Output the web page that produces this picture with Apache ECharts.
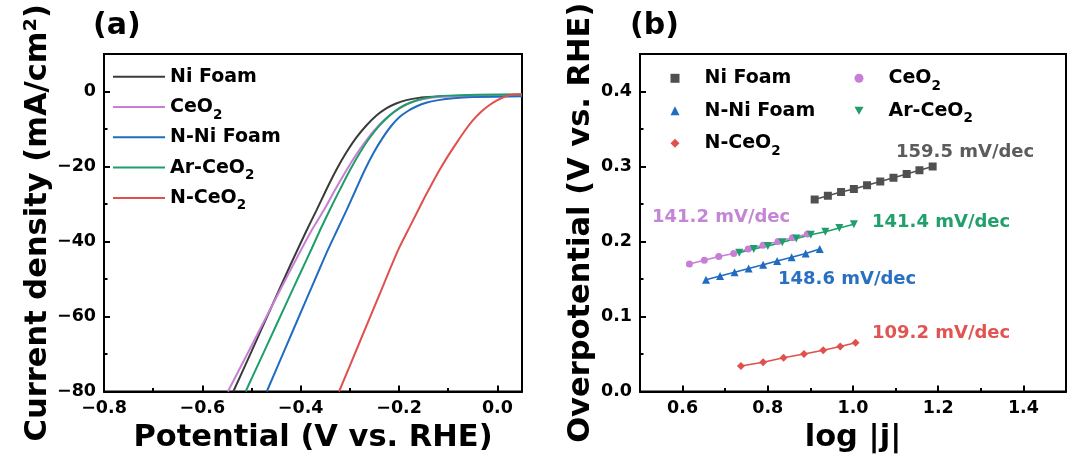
<!DOCTYPE html>
<html>
<head>
<meta charset="utf-8">
<script src="https://cdn.jsdelivr.net/npm/echarts@6/dist/echarts.min.js"></script>
<style>
  html, body { margin: 0; padding: 0; background: #fff; }
  #chart { width: 1080px; height: 459px; }
</style>
</head>
<body>
<div id="chart"></div>
<script>
// (a) polarization curves: [potential (V vs. RHE), current density (mA/cm2)]
const niFoamLsv = [[-0.537,-80],[-0.50,-69.3],[-0.46,-57.6],[-0.42,-46],[-0.39,-37.6],[-0.368,-31.7],[-0.348,-26.2],[-0.328,-21],[-0.308,-16.4],[-0.287,-12.3],[-0.266,-9],[-0.246,-6.4],[-0.226,-4.5],[-0.206,-3.2],[-0.185,-2.3],[-0.16,-1.7],[-0.13,-1.4],[-0.09,-1.2],[-0.04,-1.1],[0.05,-1.0]];
const ceo2Lsv = [[-0.548,-80],[-0.50,-67.8],[-0.45,-55],[-0.40,-42.4],[-0.375,-36.4],[-0.351,-31.2],[-0.33,-26.2],[-0.307,-21],[-0.288,-17],[-0.27,-13.6],[-0.25,-10.3],[-0.23,-7.6],[-0.21,-5.4],[-0.19,-3.8],[-0.17,-2.7],[-0.15,-2.0],[-0.12,-1.5],[-0.08,-1.2],[-0.02,-1.0],[0.05,-0.9]];
const nNiFoamLsv = [[-0.469,-80],[-0.43,-68.1],[-0.39,-55.9],[-0.36,-46.8],[-0.345,-42.3],[-0.326,-37],[-0.307,-31.7],[-0.288,-26.2],[-0.27,-21],[-0.252,-16.4],[-0.233,-12.3],[-0.216,-9.2],[-0.199,-6.8],[-0.182,-5.2],[-0.165,-4.0],[-0.145,-3.0],[-0.12,-2.3],[-0.09,-1.8],[-0.05,-1.5],[0.05,-1.3]];
const arCeo2Lsv = [[-0.512,-80],[-0.47,-68.1],[-0.43,-56.7],[-0.40,-48.2],[-0.378,-42],[-0.36,-36.8],[-0.341,-31.6],[-0.32,-26.1],[-0.30,-21],[-0.28,-16.4],[-0.26,-12.4],[-0.24,-9.1],[-0.22,-6.5],[-0.20,-4.5],[-0.185,-3.4],[-0.165,-2.4],[-0.14,-1.6],[-0.10,-1.1],[-0.04,-0.85],[0.05,-0.75]];
const nCeo2Lsv = [[-0.322,-80],[-0.28,-66.8],[-0.24,-54.2],[-0.202,-42.3],[-0.176,-35.5],[-0.151,-29],[-0.134,-24.8],[-0.118,-21],[-0.101,-17.3],[-0.084,-13.9],[-0.067,-10.6],[-0.05,-7.7],[-0.033,-5.4],[-0.016,-3.6],[0,-2.3],[0.011,-1.6],[0.025,-1.0],[0.038,-0.8],[0.05,-0.7]];

// (b) Tafel plots: [log|j|, overpotential (V vs. RHE)]
const niFoamTafel = [[0.910,0.256],[0.941,0.261],[0.972,0.266],[1.002,0.270],[1.033,0.275],[1.064,0.280],[1.095,0.285],[1.126,0.290],[1.156,0.295],[1.187,0.300]];
const ceo2Tafel = [[0.616,0.170],[0.651,0.175],[0.685,0.180],[0.720,0.184],[0.754,0.190],[0.789,0.195],[0.824,0.200],[0.858,0.205],[0.893,0.210]];
const nNiFoamTafel = [[0.655,0.149],[0.688,0.154],[0.722,0.159],[0.755,0.164],[0.789,0.169],[0.822,0.174],[0.856,0.179],[0.889,0.184],[0.922,0.190]];
const arCeo2Tafel = [[0.733,0.185],[0.767,0.190],[0.800,0.194],[0.834,0.199],[0.867,0.204],[0.901,0.209],[0.935,0.213],[0.968,0.218],[1.002,0.223]];
const nCeo2Tafel = [[0.737,0.034],[0.789,0.039],[0.837,0.045],[0.885,0.050],[0.930,0.055],[0.970,0.060],[1.006,0.065]];

const sampleNames = ['Ni Foam', 'CeO2', 'N-Ni Foam', 'Ar-CeO2', 'N-CeO2'];
const tafelSlopes = ['159.5 mV/dec', '141.2 mV/dec', '148.6 mV/dec', '141.4 mV/dec', '109.2 mV/dec'];

// ticks
const lsvXTicks = [-0.8, -0.6, -0.4, -0.2, 0.0];
const lsvXMinor = [-0.7, -0.5, -0.3, -0.1];
const lsvYTicks = [-80, -60, -40, -20, 0];
const lsvYMinor = [-70, -50, -30, -10];
const tafelXTicks = [0.6, 0.8, 1.0, 1.2, 1.4];
const tafelXMinor = [0.7, 0.9, 1.1, 1.3];
const tafelYTicks = [0.0, 0.1, 0.2, 0.3, 0.4];
const tafelYMinor = [0.05, 0.15, 0.25, 0.35];

const FONT = '"DejaVu Sans", sans-serif';
const lineColors = ['#3a3a3a', '#c77fd6', '#1f6cc0', '#1f9e6c', '#e0504c'];
const markColors = ['#505050', '#c77fd6', '#1f6cc0', '#1f9e6c', '#e0504c'];
const noteColors = ['#5c5c5c', '#c486d4', '#2a70c0', '#22a06c', '#e05552'];
const markers = ['rect', 'circle', 'triangle', 'path://M0,0L10,0L5,9Z', 'diamond'];

const fmt = d => v => (v < 0 ? '\u2212' : '') + Math.abs(v).toFixed(d);
// "CeO2" -> CeO with a dropped subscript 2
const chem = name => name.replace(/O2$/, 'O{s|2}');

function axis(dir, grid, min, max, major, minor, digits, name, nameGap) {
    const pos = dir === 'x' ? 'bottom' : 'left';
    const base = {
        type: 'value', gridIndex: grid, min: min, max: max, position: pos,
        splitLine: { show: false }
    };
    const main = Object.assign({}, base, {
        axisLine: { show: true, onZero: false, lineStyle: { color: '#000', width: 2 } },
        axisTick: { show: true, inside: true, length: 6, customValues: major, lineStyle: { color: '#000', width: 2 } },
        axisLabel: { customValues: major, formatter: fmt(digits), color: '#000', fontSize: 17.5, fontWeight: 'bold', fontFamily: FONT, margin: 8 },
        name: name, nameLocation: 'middle', nameGap: nameGap,
        nameTextStyle: { color: '#000', fontSize: 30.5, fontWeight: 'bold', fontFamily: FONT }
    });
    const sub = Object.assign({}, base, {
        axisLine: { show: false, onZero: false },
        axisTick: { show: true, inside: true, length: 3.5, customValues: minor, lineStyle: { color: '#000', width: 2 } },
        axisLabel: { show: false }
    });
    return [main, sub];
}

const lsvData = [niFoamLsv, ceo2Lsv, nNiFoamLsv, arCeo2Lsv, nCeo2Lsv];
const tafelData = [niFoamTafel, ceo2Tafel, nNiFoamTafel, arCeo2Tafel, nCeo2Tafel];

const series = [];
lsvData.forEach((d, i) => series.push({
    name: sampleNames[i], type: 'line', xAxisIndex: 0, yAxisIndex: 0,
    data: d, symbol: 'none', smooth: 0.25,
    lineStyle: { width: 2, color: lineColors[i] }, itemStyle: { color: lineColors[i] }
}));
tafelData.forEach((d, i) => series.push({
    name: sampleNames[i], type: 'line', xAxisIndex: 2, yAxisIndex: 2,
    data: d, symbol: markers[i], symbolSize: i === 1 ? 7 : 8,
    lineStyle: { width: 1.5, color: markColors[i] }, itemStyle: { color: markColors[i] }
}));

// line box of 30 px, the subscript token sits at its bottom
const legendText = pad => ({
    color: '#000', fontSize: 19, fontWeight: 'bold', fontFamily: FONT, lineHeight: 30,
    padding: [0, 0, 0, pad],
    rich: { s: { fontSize: 13.5, fontWeight: 'bold', fontFamily: FONT, color: '#000', lineHeight: 4, verticalAlign: 'bottom' } }
});
const lsvLegendItem = i => ({ name: sampleNames[i], icon: 'rect', itemStyle: { color: lineColors[i] } });
const tafelLegendItem = i => ({ name: sampleNames[i], icon: markers[i], itemStyle: { color: markColors[i] } });

const notePos = [[896, 152], [652, 217], [778, 279], [872, 222], [872, 333]];

const chart = echarts.init(document.getElementById('chart'));
chart.setOption({
    backgroundColor: '#fff',
    animation: false,
    title: [
        { text: '(a)', left: 93, top: 11, padding: 0, textStyle: { fontSize: 30, fontWeight: 'bold', fontFamily: FONT, color: '#000' } },
        { text: '(b)', left: 630, top: 11, padding: 0, textStyle: { fontSize: 30, fontWeight: 'bold', fontFamily: FONT, color: '#000' } }
    ],
    grid: [
        { left: 104, width: 418, top: 54, height: 337.5, show: true, borderColor: '#000', borderWidth: 2 },
        { left: 640, width: 426, top: 54, height: 337.5, show: true, borderColor: '#000', borderWidth: 2 }
    ],
    xAxis: [].concat(
        axis('x', 0, -0.8, 0.05, lsvXTicks, lsvXMinor, 1, 'Potential (V vs. RHE)', 30),
        axis('x', 1, 0.5, 1.5, tafelXTicks, tafelXMinor, 1, 'log |j|', 30)
    ),
    yAxis: [].concat(
        axis('y', 0, -80, 10, lsvYTicks, lsvYMinor, 0, 'Current density (mA/cm\u00b2)', 32),
        axis('y', 1, 0, 0.45, tafelYTicks, tafelYMinor, 1, 'Overpotential (V vs. RHE)', 43)
    ),
    legend: [
        {
            data: [0, 1, 2, 3, 4].map(lsvLegendItem), orient: 'vertical', left: 113, top: 61.7, padding: 0,
            itemWidth: 52, itemHeight: 2, itemGap: 0.3, selectedMode: false,
            formatter: chem, textStyle: legendText(0)
        },
        {
            data: [0, 2, 4].map(tafelLegendItem), orient: 'vertical', left: 670.5, top: 63.3, padding: 0,
            itemWidth: 9, itemHeight: 9, itemGap: 2.5, selectedMode: false,
            formatter: chem, textStyle: legendText(20)
        },
        {
            data: [1, 3].map(tafelLegendItem), orient: 'vertical', left: 854.5, top: 63.3, padding: 0,
            itemWidth: 9, itemHeight: 9, itemGap: 2.5, selectedMode: false,
            formatter: chem, textStyle: legendText(20)
        }
    ],
    graphic: tafelSlopes.map((t, i) => ({
        type: 'text', x: notePos[i][0], y: notePos[i][1], z: 10,
        style: { text: t, fill: noteColors[i], font: 'bold 18px ' + FONT, verticalAlign: 'middle' }
    })),
    series: series
});
</script>
</body>
</html>
